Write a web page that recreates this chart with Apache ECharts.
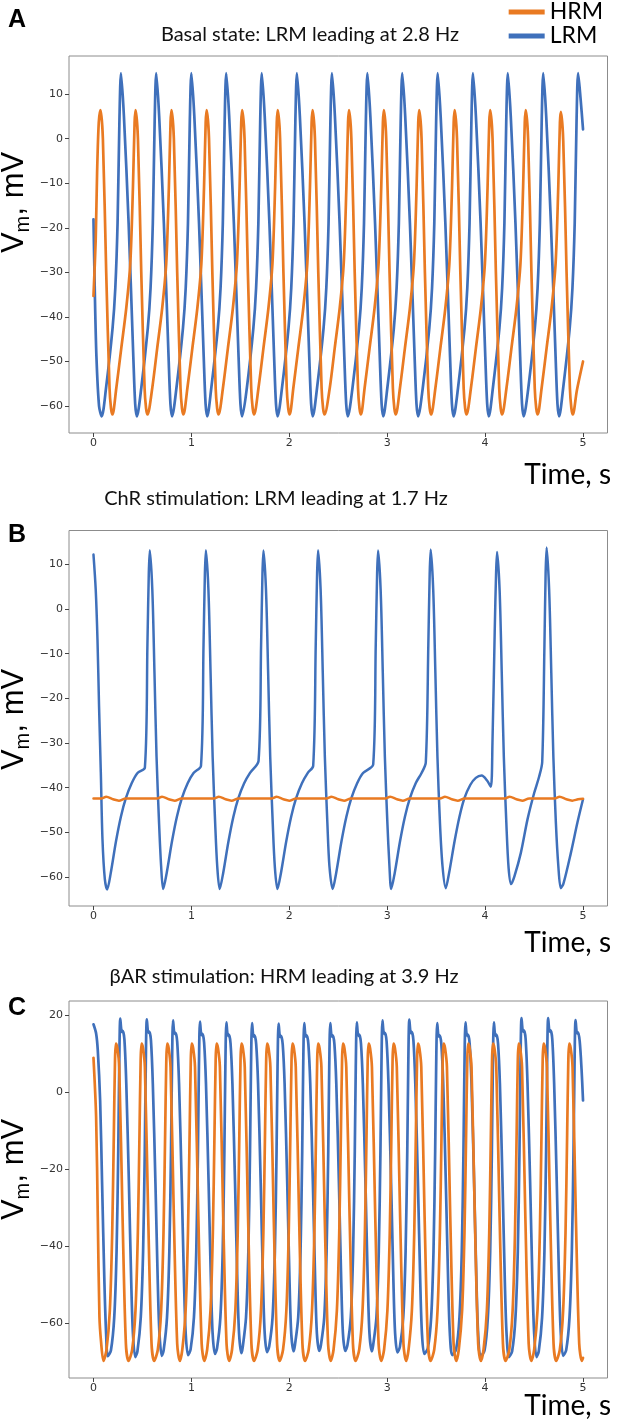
<!DOCTYPE html>
<html lang="en">
<head>
<meta charset="UTF-8">
<title>HRM / LRM membrane potential</title>
<script src="https://cdn.jsdelivr.net/npm/echarts@6/dist/echarts.min.js"></script>
<style>
    html, body { margin: 0; padding: 0; background: #fff; }
    #main { width: 620px; height: 1423px; }
</style>
</head>
<body>
<div id="main"></div>
<script>
// tick labels
var timeTicks = [0, 1, 2, 3, 4, 5];
var basalTicks = [-60, -50, -40, -30, -20, -10, 0, 10];
var chrTicks = [-60, -50, -40, -30, -20, -10, 0, 10];
var barTicks = [-60, -40, -20, 0, 20];

var titles = [
    'Basal state: LRM leading at 2.8 Hz',
    'ChR stimulation: LRM leading at 1.7 Hz',
    '\u03b2AR stimulation: HRM leading at 3.9 Hz'
];

// A: basal state, [time s, Vm mV]
var basalLrm = [
    [0, -18.1], [0.013, -33.7], [0.03, -48.8], [0.057, -60], [0.084, -62.3],
    [0.128, -56], [0.195, -42.5], [0.223, -33.5], [0.246, -19], [0.265, 4], [0.281, 14.7],
    [0.311, 5], [0.359, -19], [0.407, -49], [0.426, -59.5], [0.443, -62.3], [0.488, -56], [0.555, -42.5], [0.583, -33.5], [0.606, -19], [0.625, 4], [0.641, 14.7],
    [0.671, 5], [0.719, -19], [0.767, -49], [0.786, -59.5], [0.803, -62.3], [0.847, -56], [0.914, -42.5], [0.942, -33.5], [0.965, -19], [0.984, 4], [1.000, 14.7],
    [1.030, 5], [1.078, -19], [1.126, -49], [1.145, -59.5], [1.162, -62.3], [1.203, -56], [1.270, -42.5], [1.298, -33.5], [1.321, -19], [1.340, 4], [1.356, 14.7],
    [1.386, 5], [1.434, -19], [1.482, -49], [1.501, -59.5], [1.518, -62.3], [1.566, -56], [1.633, -42.5], [1.661, -33.5], [1.684, -19], [1.703, 4], [1.719, 14.7],
    [1.749, 5], [1.797, -19], [1.845, -49], [1.864, -59.5], [1.881, -62.3], [1.925, -56], [1.992, -42.5], [2.020, -33.5], [2.043, -19], [2.062, 4], [2.078, 14.7],
    [2.108, 5], [2.156, -19], [2.204, -49], [2.223, -59.5], [2.240, -62.3], [2.283, -56], [2.350, -42.5], [2.378, -33.5], [2.401, -19], [2.420, 4], [2.436, 14.7],
    [2.466, 5], [2.514, -19], [2.562, -49], [2.581, -59.5], [2.598, -62.3], [2.645, -56], [2.712, -42.5], [2.740, -33.5], [2.763, -19], [2.782, 4], [2.798, 14.7],
    [2.828, 5], [2.876, -19], [2.924, -49], [2.943, -59.5], [2.960, -62.3], [3.001, -56], [3.068, -42.5], [3.096, -33.5], [3.119, -19], [3.138, 4], [3.154, 14.7],
    [3.184, 5], [3.232, -19], [3.280, -49], [3.299, -59.5], [3.316, -62.3], [3.363, -56], [3.430, -42.5], [3.458, -33.5], [3.481, -19], [3.500, 4], [3.516, 14.7],
    [3.546, 5], [3.594, -19], [3.642, -49], [3.661, -59.5], [3.678, -62.3], [3.723, -56], [3.790, -42.5], [3.818, -33.5], [3.841, -19], [3.860, 4], [3.876, 14.7],
    [3.906, 5], [3.954, -19], [4.002, -49], [4.021, -59.5], [4.038, -62.3], [4.079, -56], [4.146, -42.5], [4.174, -33.5], [4.197, -19], [4.216, 4], [4.232, 14.7],
    [4.262, 5], [4.310, -19], [4.358, -49], [4.377, -59.5], [4.394, -62.3], [4.441, -56], [4.508, -42.5], [4.536, -33.5], [4.559, -19], [4.578, 4], [4.594, 14.7],
    [4.624, 5], [4.672, -19], [4.720, -49], [4.739, -59.5], [4.756, -62.3], [4.797, -56], [4.864, -42.5], [4.892, -33.5], [4.915, -19], [4.934, 4], [4.950, 14.7],
    [4.975, 9], [5.0, 2.1]
];
var basalHrm = [
    [0, -35.3], [0.023, -22.5], [0.037, -7.6], [0.054, 3.6], [0.072, 6.4],
    [0.096, 0], [0.130, -30], [0.164, -56], [0.179, -60.5], [0.194, -61.9], [0.233, -56], [0.284, -47], [0.335, -38], [0.376, -28], [0.403, -11], [0.420, 3.6], [0.430, 6.4],
    [0.454, 0], [0.488, -30], [0.522, -56], [0.537, -60.5], [0.552, -61.9], [0.600, -56], [0.651, -47], [0.702, -38], [0.743, -28], [0.770, -11], [0.787, 3.6], [0.797, 6.4],
    [0.821, 0], [0.855, -30], [0.889, -56], [0.904, -60.5], [0.919, -61.9], [0.959, -56], [1.010, -47], [1.061, -38], [1.102, -28], [1.129, -11], [1.146, 3.6], [1.156, 6.4],
    [1.180, 0], [1.214, -30], [1.248, -56], [1.263, -60.5], [1.278, -61.9], [1.322, -56], [1.373, -47], [1.424, -38], [1.465, -28], [1.492, -11], [1.509, 3.6], [1.519, 6.4],
    [1.543, 0], [1.577, -30], [1.611, -56], [1.626, -60.5], [1.641, -61.9], [1.685, -56], [1.736, -47], [1.787, -38], [1.828, -28], [1.855, -11], [1.872, 3.6], [1.882, 6.4],
    [1.906, 0], [1.940, -30], [1.974, -56], [1.989, -60.5], [2.004, -61.9], [2.041, -56], [2.092, -47], [2.143, -38], [2.184, -28], [2.211, -11], [2.228, 3.6], [2.238, 6.4],
    [2.262, 0], [2.296, -30], [2.330, -56], [2.345, -60.5], [2.360, -61.9], [2.413, -56], [2.464, -47], [2.515, -38], [2.556, -28], [2.583, -11], [2.600, 3.6], [2.610, 6.4],
    [2.634, 0], [2.668, -30], [2.702, -56], [2.717, -60.5], [2.732, -61.9], [2.769, -56], [2.820, -47], [2.871, -38], [2.912, -28], [2.939, -11], [2.956, 3.6], [2.966, 6.4],
    [2.990, 0], [3.024, -30], [3.058, -56], [3.073, -60.5], [3.088, -61.9], [3.130, -56], [3.181, -47], [3.232, -38], [3.273, -28], [3.300, -11], [3.317, 3.6], [3.327, 6.4],
    [3.351, 0], [3.385, -30], [3.419, -56], [3.434, -60.5], [3.449, -61.9], [3.492, -56], [3.543, -47], [3.594, -38], [3.635, -28], [3.662, -11], [3.679, 3.6], [3.689, 6.4],
    [3.713, 0], [3.747, -30], [3.781, -56], [3.796, -60.5], [3.811, -61.9], [3.855, -56], [3.906, -47], [3.957, -38], [3.998, -28], [4.025, -11], [4.042, 3.6], [4.052, 6.4],
    [4.076, 0], [4.110, -30], [4.144, -56], [4.159, -60.5], [4.174, -61.9], [4.218, -56], [4.269, -47], [4.320, -38], [4.361, -28], [4.388, -11], [4.405, 3.6], [4.415, 6.4],
    [4.439, 0], [4.473, -30], [4.507, -56], [4.522, -60.5], [4.537, -61.9], [4.577, -56], [4.628, -47], [4.679, -38], [4.720, -28], [4.747, -11], [4.764, 3.6], [4.774, 6.0],
    [4.798, -0.5], [4.832, -30], [4.866, -56], [4.881, -60.5], [4.896, -61.9], [4.937, -56.5], [5.0, -50]
];

// B: ChR stimulation
var chrLrm = [
    [0, 12.2], [0.023, 4.3], [0.041, -6.9], [0.057, -21.8], [0.075, -36.6], [0.092, -51.6], [0.116, -60.5], [0.14, -62.8],
    [0.175, -59.3], [0.23, -52], [0.28, -46.5], [0.33, -42.4], [0.39, -39], [0.45, -36.7], [0.525, -35.5], [0.551, -8], [0.565, 8], [0.575, 13.2],
    [0.601, 4.3], [0.623, -14.3], [0.644, -33], [0.67, -48], [0.691, -57.6], [0.712, -62.7],
    [0.747, -59.2], [0.802, -52], [0.852, -46.5], [0.902, -42.4], [0.962, -39], [1.022, -36.7], [1.098, -35.1], [1.124, -8], [1.138, 8], [1.148, 13.2],
    [1.174, 4.3], [1.196, -14.3], [1.217, -33], [1.243, -48], [1.264, -57.6], [1.289, -62.7],
    [1.324, -59.2], [1.379, -52], [1.429, -46.5], [1.479, -42.4], [1.539, -39], [1.599, -36.7], [1.686, -34.0], [1.712, -8], [1.726, 8], [1.736, 13.1],
    [1.762, 4.3], [1.784, -14.3], [1.805, -33], [1.831, -48], [1.852, -57.6], [1.879, -62.7],
    [1.914, -59.2], [1.969, -52], [2.019, -46.5], [2.069, -42.4], [2.129, -39], [2.189, -36.7], [2.244, -35.1], [2.270, -8], [2.284, 8], [2.294, 13.2],
    [2.320, 4.3], [2.342, -14.3], [2.363, -33], [2.389, -48], [2.410, -57.6], [2.443, -62.7],
    [2.478, -59.2], [2.533, -52], [2.583, -46.5], [2.633, -42.4], [2.693, -39], [2.753, -36.7], [2.857, -34.8], [2.883, -8], [2.897, 8], [2.907, 13.1],
    [2.933, 4.3], [2.955, -14.3], [2.976, -33], [3.002, -48], [3.023, -57.6], [3.041, -62.7],
    [3.076, -59.2], [3.131, -52], [3.181, -46.5], [3.231, -42.4], [3.291, -39], [3.351, -36.7], [3.394, -34.4], [3.420, -8], [3.434, 8], [3.444, 13.35],
    [3.470, 4.3], [3.492, -14.3], [3.513, -33], [3.539, -48], [3.565, -57.6], [3.598, -62.5],
    [3.633, -59], [3.688, -52], [3.738, -46.5], [3.788, -42.4], [3.848, -39.4], [3.905, -37.8], [3.965, -37.3], [4.02, -38.4], [4.058, -39.8], [4.075, -30], [4.098, -5], [4.112, 8], [4.122, 12.8],
    [4.148, 4.3], [4.170, -14.3], [4.191, -33], [4.217, -48], [4.240, -58], [4.266, -61.6],
    [4.300, -59.8], [4.365, -54.6], [4.433, -47.1], [4.501, -41.2], [4.552, -37.5], [4.583, -34.3], [4.606, -8], [4.618, 8], [4.628, 13.8],
    [4.654, 4.3], [4.676, -14.3], [4.697, -33], [4.723, -48], [4.748, -57.6], [4.773, -62.5],
    [4.80, -61.5], [4.876, -54.6], [4.944, -47.7], [5.0, -42.6]
];
var chrHrm = [
    [0, -42.4], [0.08, -42.4], [0.13, -42.05], [0.20, -42.6], [0.26, -42.9], [0.33, -42.4],
    [0.65, -42.4], [0.70, -42.05], [0.77, -42.6], [0.83, -42.9], [0.90, -42.4],
    [1.23, -42.4], [1.28, -42.05], [1.35, -42.6], [1.41, -42.9], [1.48, -42.4],
    [1.82, -42.4], [1.87, -42.05], [1.94, -42.6], [2.00, -42.9], [2.07, -42.4],
    [2.38, -42.4], [2.43, -42.05], [2.50, -42.6], [2.56, -42.9], [2.63, -42.4],
    [2.98, -42.4], [3.03, -42.05], [3.10, -42.6], [3.16, -42.9], [3.23, -42.4],
    [3.54, -42.4], [3.59, -42.05], [3.66, -42.6], [3.72, -42.9], [3.79, -42.4],
    [4.20, -42.4], [4.25, -42.05], [4.32, -42.6], [4.38, -42.9], [4.45, -42.4],
    [4.71, -42.4], [4.76, -42.05], [4.83, -42.6], [4.89, -42.9], [4.95, -42.6], [5.0, -42.5]
];

// C: beta-adrenergic stimulation
var barLrm = [
    [0, 17.7], [0.027, 15.3], [0.044, 10.9], [0.068, -2.1], [0.088, -23.7], [0.112, -49.7], [0.129, -62.7], [0.146, -68.6],
    [0.178, -67.1], [0.212, -58.5], [0.236, -41.2], [0.253, -15.2], [0.263, 6.6], [0.274, 19.2],
    [0.289, 15.7], [0.299, 16.0], [0.316, 13.7], [0.335, 2.3], [0.362, -23.7], [0.386, -49.7], [0.403, -62.7], [0.427, -68.8], [0.449, -67.3], [0.483, -58.5], [0.507, -41.2], [0.524, -15.2], [0.534, 6.6], [0.545, 19.0],
    [0.560, 15.5], [0.570, 15.8], [0.587, 13.5], [0.606, 2.3], [0.633, -23.7], [0.657, -49.7], [0.674, -62.7], [0.698, -68.5], [0.717, -67.0], [0.751, -58.5], [0.775, -41.2], [0.792, -15.2], [0.802, 6.6], [0.813, 18.7],
    [0.828, 15.2], [0.838, 15.5], [0.855, 13.2], [0.874, 2.3], [0.901, -23.7], [0.925, -49.7], [0.942, -62.7], [0.966, -68.3], [0.992, -66.8], [1.026, -58.5], [1.050, -41.2], [1.067, -15.2], [1.077, 6.6], [1.088, 18.4],
    [1.103, 14.9], [1.113, 15.2], [1.130, 12.9], [1.149, 2.3], [1.176, -23.7], [1.200, -49.7], [1.217, -62.7], [1.241, -68.0], [1.262, -66.5], [1.296, -58.5], [1.320, -41.2], [1.337, -15.2], [1.347, 6.6], [1.358, 18.2],
    [1.373, 14.7], [1.383, 15.0], [1.400, 12.7], [1.419, 2.3], [1.446, -23.7], [1.470, -49.7], [1.487, -62.7], [1.511, -67.8], [1.524, -66.3], [1.558, -58.5], [1.582, -41.2], [1.599, -15.2], [1.609, 6.6], [1.620, 18.0],
    [1.635, 14.5], [1.645, 14.8], [1.662, 12.5], [1.681, 2.3], [1.708, -23.7], [1.732, -49.7], [1.749, -62.7], [1.773, -67.5], [1.795, -66.0], [1.829, -58.5], [1.853, -41.2], [1.870, -15.2], [1.880, 6.6], [1.891, 17.9],
    [1.906, 14.4], [1.916, 14.7], [1.933, 12.4], [1.952, 2.3], [1.979, -23.7], [2.003, -49.7], [2.020, -62.7], [2.044, -67.3], [2.057, -65.8], [2.091, -58.5], [2.115, -41.2], [2.132, -15.2], [2.142, 6.6], [2.153, 18.0],
    [2.168, 14.5], [2.178, 14.8], [2.195, 12.5], [2.214, 2.3], [2.241, -23.7], [2.265, -49.7], [2.282, -62.7], [2.306, -67.2], [2.323, -65.7], [2.357, -58.5], [2.381, -41.2], [2.398, -15.2], [2.408, 6.6], [2.419, 18.0],
    [2.434, 14.5], [2.444, 14.8], [2.461, 12.5], [2.480, 2.3], [2.507, -23.7], [2.531, -49.7], [2.548, -62.7], [2.572, -67.2], [2.594, -65.7], [2.628, -58.5], [2.652, -41.2], [2.669, -15.2], [2.679, 6.6], [2.690, 18.2],
    [2.705, 14.7], [2.715, 15.0], [2.732, 12.7], [2.751, 2.3], [2.778, -23.7], [2.802, -49.7], [2.819, -62.7], [2.843, -67.3], [2.856, -65.8], [2.890, -58.5], [2.914, -41.2], [2.931, -15.2], [2.941, 6.6], [2.952, 18.7],
    [2.967, 15.2], [2.977, 15.5], [2.994, 13.2], [3.013, 2.3], [3.040, -23.7], [3.064, -49.7], [3.081, -62.7], [3.105, -67.6], [3.130, -66.1], [3.164, -58.5], [3.188, -41.2], [3.205, -15.2], [3.215, 6.6], [3.226, 18.9],
    [3.241, 15.4], [3.251, 15.7], [3.268, 13.4], [3.287, 2.3], [3.314, -23.7], [3.338, -49.7], [3.355, -62.7], [3.379, -68.0], [3.415, -66.5], [3.449, -58.5], [3.473, -41.2], [3.490, -15.2], [3.500, 6.6], [3.511, 18.0],
    [3.526, 14.5], [3.536, 14.8], [3.553, 12.5], [3.572, 2.3], [3.599, -23.7], [3.623, -49.7], [3.640, -62.7], [3.664, -68.3], [3.704, -66.8], [3.738, -58.5], [3.762, -41.2], [3.779, -15.2], [3.789, 6.6], [3.800, 18.2],
    [3.815, 14.7], [3.825, 15.0], [3.842, 12.7], [3.861, 2.3], [3.888, -23.7], [3.912, -49.7], [3.929, -62.7], [3.953, -68.6], [3.994, -67.1], [4.028, -58.5], [4.052, -41.2], [4.069, -15.2], [4.079, 6.6], [4.090, 18.2],
    [4.105, 14.7], [4.115, 15.0], [4.132, 12.7], [4.151, 2.3], [4.178, -23.7], [4.202, -49.7], [4.219, -62.7], [4.243, -68.8], [4.276, -67.3], [4.310, -58.5], [4.334, -41.2], [4.351, -15.2], [4.361, 6.6], [4.372, 19.3],
    [4.387, 15.8], [4.397, 16.1], [4.414, 13.8], [4.433, 2.3], [4.460, -23.7], [4.484, -49.7], [4.501, -62.7], [4.525, -68.8], [4.548, -67.3], [4.582, -58.5], [4.606, -41.2], [4.623, -15.2], [4.633, 6.6], [4.644, 19.3],
    [4.659, 15.8], [4.669, 16.1], [4.686, 13.8], [4.705, 2.3], [4.732, -23.7], [4.756, -49.7], [4.773, -62.7], [4.797, -68.5], [4.828, -67.0], [4.862, -58.5], [4.886, -41.2], [4.903, -15.2], [4.913, 6.6], [4.924, 18.8],
    [4.939, 15.3], [4.949, 15.6], [4.966, 13.3], [4.985, 6], [5.0, -2.1]
];
var barHrm = [
    [0, 9.0], [0.027, -6.4], [0.044, -32.4], [0.061, -58.4], [0.078, -65], [0.102, -69.8],
    [0.133, -66.9], [0.167, -56.7], [0.191, -36.7], [0.208, -10.7], [0.220, 8.5], [0.229, 12.7],
    [0.244, 11.5], [0.263, 6.6], [0.297, -32.4], [0.331, -65.3], [0.358, -69.8], [0.395, -66.9], [0.429, -56.7], [0.453, -36.7], [0.470, -10.7], [0.482, 8.5], [0.491, 12.7],
    [0.506, 11.5], [0.525, 6.6], [0.559, -32.4], [0.593, -65.3], [0.620, -69.8], [0.657, -66.9], [0.691, -56.7], [0.715, -36.7], [0.732, -10.7], [0.744, 8.5], [0.753, 12.7],
    [0.768, 11.5], [0.787, 6.6], [0.821, -32.4], [0.855, -65.3], [0.882, -69.8], [0.907, -66.9], [0.941, -56.7], [0.965, -36.7], [0.982, -10.7], [0.994, 8.5], [1.003, 12.7],
    [1.018, 11.5], [1.037, 6.6], [1.071, -32.4], [1.105, -65.3], [1.132, -69.8], [1.161, -66.9], [1.195, -56.7], [1.219, -36.7], [1.236, -10.7], [1.248, 8.5], [1.257, 12.7],
    [1.272, 11.5], [1.291, 6.6], [1.325, -32.4], [1.359, -65.3], [1.386, -69.8], [1.415, -66.9], [1.449, -56.7], [1.473, -36.7], [1.490, -10.7], [1.502, 8.5], [1.511, 12.7],
    [1.526, 11.5], [1.545, 6.6], [1.579, -32.4], [1.613, -65.3], [1.640, -69.8], [1.677, -66.9], [1.711, -56.7], [1.735, -36.7], [1.752, -10.7], [1.764, 8.5], [1.773, 12.7],
    [1.788, 11.5], [1.807, 6.6], [1.841, -32.4], [1.875, -65.3], [1.902, -69.8], [1.936, -66.9], [1.970, -56.7], [1.994, -36.7], [2.011, -10.7], [2.023, 8.5], [2.032, 12.7],
    [2.047, 11.5], [2.066, 6.6], [2.100, -32.4], [2.134, -65.3], [2.161, -69.8], [2.198, -66.9], [2.232, -56.7], [2.256, -36.7], [2.273, -10.7], [2.285, 8.5], [2.294, 12.7],
    [2.309, 11.5], [2.328, 6.6], [2.362, -32.4], [2.396, -65.3], [2.423, -69.8], [2.452, -66.9], [2.486, -56.7], [2.510, -36.7], [2.527, -10.7], [2.539, 8.5], [2.548, 12.7],
    [2.563, 11.5], [2.582, 6.6], [2.616, -32.4], [2.650, -65.3], [2.677, -69.8], [2.714, -66.9], [2.748, -56.7], [2.772, -36.7], [2.789, -10.7], [2.801, 8.5], [2.810, 12.7],
    [2.825, 11.5], [2.844, 6.6], [2.878, -32.4], [2.912, -65.3], [2.939, -69.8], [2.968, -66.9], [3.002, -56.7], [3.026, -36.7], [3.043, -10.7], [3.055, 8.5], [3.064, 12.7],
    [3.079, 11.5], [3.098, 6.6], [3.132, -32.4], [3.166, -65.3], [3.193, -69.8], [3.218, -66.9], [3.252, -56.7], [3.276, -36.7], [3.293, -10.7], [3.305, 8.5], [3.314, 12.7],
    [3.329, 11.5], [3.348, 6.6], [3.382, -32.4], [3.416, -65.3], [3.443, -69.8], [3.480, -66.9], [3.514, -56.7], [3.538, -36.7], [3.555, -10.7], [3.567, 8.5], [3.576, 12.7],
    [3.591, 11.5], [3.610, 6.6], [3.644, -32.4], [3.678, -65.3], [3.705, -69.8], [3.731, -66.9], [3.765, -56.7], [3.789, -36.7], [3.806, -10.7], [3.818, 8.5], [3.827, 12.7],
    [3.842, 11.5], [3.861, 6.6], [3.895, -32.4], [3.929, -65.3], [3.956, -69.8], [3.984, -66.9], [4.018, -56.7], [4.042, -36.7], [4.059, -10.7], [4.071, 8.5], [4.080, 12.7],
    [4.095, 11.5], [4.114, 6.6], [4.148, -32.4], [4.182, -65.3], [4.209, -69.8], [4.247, -66.9], [4.281, -56.7], [4.305, -36.7], [4.322, -10.7], [4.334, 8.5], [4.343, 12.7],
    [4.358, 11.5], [4.377, 6.6], [4.411, -32.4], [4.445, -65.3], [4.472, -69.8], [4.501, -66.9], [4.535, -56.7], [4.559, -36.7], [4.576, -10.7], [4.588, 8.5], [4.597, 12.7],
    [4.612, 11.5], [4.631, 6.6], [4.665, -32.4], [4.699, -65.3], [4.726, -69.8], [4.763, -66.9], [4.797, -56.7], [4.821, -36.7], [4.838, -10.7], [4.850, 8.5], [4.859, 12.7],
    [4.874, 11.5], [4.893, 6.6], [4.927, -32.4], [4.961, -65.3], [4.988, -69.8], [5.0, -69.0]
];

var hrmColor = '#e97a22';
var lrmColor = '#3f70bb';

var panels = [
    {top: 56, height: 377, min: -66.05, max: 18.55, ticks: basalTicks, hrm: basalHrm, lrm: basalLrm, lw: 2.7,
        letter: 'A', letterY: 20, title: titles[0], titleX: 310, titleY: 35, labelY: 203, timeY: 475},
    {top: 530.5, height: 375.5, min: -66.5, max: 17.6, ticks: chrTicks, hrm: chrHrm, lrm: chrLrm, lw: 2.5,
        letter: 'B', letterY: 535, title: titles[1], titleX: 276, titleY: 499, labelY: 720, timeY: 943},
    {top: 1001, height: 377, min: -74.25, max: 23.75, ticks: barTicks, hrm: barHrm, lrm: barLrm, lw: 2.7,
        letter: 'C', letterY: 1008, title: titles[2], titleX: 284, titleY: 977, labelY: 1170, timeY: 1406}
];

function minus(v) {
    return String(v).replace('-', '\u2212');
}

var grids = [], xAxes = [], yAxes = [], series = [], graphics = [];

panels.forEach(function (p, i) {
    grids.push({
        left: 69, width: 538.5, top: p.top, height: p.height,
        show: true, borderColor: '#8c8c8c', borderWidth: 1,
        outerBoundsMode: 'none'
    });
    xAxes.push({
        gridIndex: i, type: 'value', min: -0.25, max: 5.25,
        axisLine: {show: false, onZero: false},
        splitLine: {show: false},
        axisTick: {show: true, length: 4, customValues: timeTicks, lineStyle: {color: '#444', width: 1}},
        axisLabel: {customValues: timeTicks, margin: 5, fontSize: 11, color: '#333', fontFamily: 'DejaVu Sans', formatter: minus}
    });
    yAxes.push({
        gridIndex: i, type: 'value', min: p.min, max: p.max,
        axisLine: {show: false, onZero: false},
        splitLine: {show: false},
        axisTick: {show: true, length: 4, customValues: p.ticks, lineStyle: {color: '#444', width: 1}},
        axisLabel: {customValues: p.ticks, margin: 6, fontSize: 11, color: '#333', fontFamily: 'DejaVu Sans', formatter: minus}
    });
    series.push({
        name: 'LRM', type: 'line', xAxisIndex: i, yAxisIndex: i, data: p.lrm,
        color: lrmColor, showSymbol: false, symbol: 'none', smooth: 0.3,
        lineStyle: {color: lrmColor, width: p.lw, join: 'round', cap: 'round'}
    });
    series.push({
        name: 'HRM', type: 'line', xAxisIndex: i, yAxisIndex: i, data: p.hrm,
        color: hrmColor, showSymbol: false, symbol: 'none', smooth: 0.3,
        lineStyle: {color: hrmColor, width: p.lw, join: 'round', cap: 'round'}
    });

    // panel letter
    graphics.push({
        type: 'text', x: 17, y: p.letterY,
        style: {text: p.letter, fontFamily: 'Liberation Sans', fontWeight: 'bold', fontSize: 25,
            fill: '#000', align: 'center', verticalAlign: 'middle'}
    });
    // panel title
    graphics.push({
        type: 'text', x: p.titleX, y: p.titleY,
        style: {text: p.title, fontFamily: 'Lato', fontSize: 20, fill: '#111', align: 'center', verticalAlign: 'middle'}
    });
    // x axis name
    graphics.push({
        type: 'text', x: 611, y: p.timeY,
        style: {text: 'Time, s', fontFamily: 'Lato', fontSize: 28, fill: '#000', align: 'right', verticalAlign: 'middle'}
    });
    // y axis name, V with subscript m
    graphics.push({
        type: 'group', x: 14, y: p.labelY, rotation: Math.PI / 2,
        children: [
            {type: 'text', x: -50, y: 0, style: {text: 'V', fontFamily: 'Liberation Sans', fontSize: 31, fill: '#000', align: 'left', verticalAlign: 'middle'}},
            {type: 'text', x: -29.5, y: 9, style: {text: 'm', fontFamily: 'Liberation Sans', fontSize: 20, fill: '#000', align: 'left', verticalAlign: 'middle'}},
            {type: 'text', x: -12.5, y: 0, style: {text: ', mV', fontFamily: 'Liberation Sans', fontSize: 31, fill: '#000', align: 'left', verticalAlign: 'middle'}}
        ]
    });
});

var myChart = echarts.init(document.getElementById('main'), null, {renderer: 'canvas'});
myChart.setOption({
    animation: false,
    backgroundColor: '#fff',
    legend: {
        data: ['HRM', 'LRM'], orient: 'vertical', right: 17, top: 0, padding: 0,
        icon: 'rect', itemWidth: 36, itemHeight: 5, itemGap: 0,
        textStyle: {fontFamily: 'Lato', fontSize: 23, lineHeight: 24, color: '#000'}
    },
    grid: grids,
    xAxis: xAxes,
    yAxis: yAxes,
    series: series,
    graphic: graphics
});
</script>
</body>
</html>
